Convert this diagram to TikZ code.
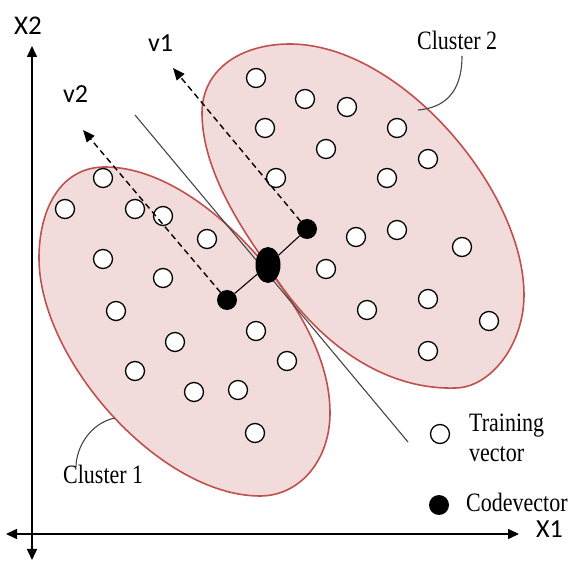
\documentclass[tikz,border=0pt]{standalone}
\usepackage{fontspec}
\setmainfont{Liberation Serif}
\newfontfamily\calib{Carlito}
\newfontfamily\serifc[FakeStretch=0.83]{Liberation Serif}
\usetikzlibrary{arrows.meta,shapes.geometric}
\definecolor{clfill}{RGB}{242,220,219}
\definecolor{cledge}{RGB}{192,80,77}
\definecolor{sepgray}{RGB}{70,70,70}
\begin{document}
\begin{tikzpicture}[x=1pt,y=-1pt,
  tv/.style={circle,draw=black,fill=white,line width=1.3pt,minimum size=19pt,inner sep=0pt},
  cv/.style={circle,fill=black,minimum size=20pt,inner sep=0pt},
  clus/.style={fill=clfill,draw=cledge,line width=1.6pt,line join=round},
  axisline/.style={line width=1.6pt,{Triangle[length=11pt,width=10pt]}-{Triangle[length=11pt,width=10pt]}},
  dasharrow/.style={line width=1.4pt,dash pattern=on 6pt off 4pt,-{Triangle[length=12pt,width=10pt]}},
  sanslbl/.style={font=\calib\fontsize{26}{30}\selectfont,inner sep=0pt,anchor=base west},
  seriflbl/.style={font=\serifc\fontsize{26.5}{30}\selectfont,inner sep=0pt,anchor=base west},
  callout/.style={line width=1.1pt,draw=sepgray}]
\useasboundingbox (0,0) rectangle (571,561);
% axes
\coordinate (ytop) at (32,46);
\coordinate (ybot) at (32,560);
\coordinate (xleft) at (6,534);
\coordinate (xright) at (519,534);
\draw[axisline] (ybot) -- (ytop);
\draw[axisline] (xleft) -- (xright);
\node[sanslbl,font=\calib\fontsize{27}{30}\selectfont] (X2) at (14,35) {X2};
\node[sanslbl] (X1) at (536,538) {X1};
% clusters
\path[clus] (266,266) .. controls (220,210) and (160,167) .. (105,167)
  .. controls (60,167) and (39,210) .. (39,258)
  .. controls (39,360) and (160,496) .. (260,496)
  .. controls (300,496) and (330,460) .. (330,413)
  .. controls (330,360) and (300,310) .. (266,266) -- cycle;
\path[clus] (268,266) .. controls (235,220) and (202,165) .. (202,113)
  .. controls (202,70) and (240,44) .. (290,44)
  .. controls (400,44) and (524,190) .. (524,295)
  .. controls (524,345) and (490,388) .. (455,388)
  .. controls (390,390) and (320,350) .. (268,266) -- cycle;
% separator
\coordinate (s1) at (135,115);
\coordinate (s2) at (408,442);
\draw[line width=1.1pt,sepgray] (s1) -- (s2);
% training vectors cluster 2
\foreach \p [count=\i] in {(256,78),(305,99),(347,107),(265,128),(397,128),(326,149),(428,159),(276,178),(387,178),(356,237),(397,230),(462,247),(326,269),(428,299),(367,310),(489,321),(428,351)}
  \node[tv] (b\i) at \p {};
% training vectors cluster 1
\foreach \p [count=\i] in {(103,178),(65,209),(135,209),(163,216),(207,239),(103,259),(163,278),(116,311),(256,331),(175,342),(287,361),(135,371),(194,392),(238,390),(255,433)}
  \node[tv] (a\i) at \p {};
% codevectors
\node[cv] (c1) at (307,229) {};
\node[cv] (c2) at (227,300) {};
\node[ellipse,fill=black,minimum width=25pt,minimum height=36pt,inner sep=0pt] (c0) at (268,265) {};
\draw[line width=1.1pt] (c2) -- (c0) -- (c1);
% direction vectors
\coordinate (v1tip) at (173,68);
\coordinate (v2tip) at (83,130);
\draw[dasharrow] (c1.center) -- (v1tip);
\draw[dasharrow] (c2.center) -- (v2tip);
\node[sanslbl] (v1) at (148,52) {v1};
\node[sanslbl] (v2) at (63,103) {v2};
% cluster labels
\node[seriflbl] (cl2) at (417,50) {Cluster 2};
\node[seriflbl] (cl1) at (63,484) {Cluster 1};
\coordinate (k2a) at (462,56);
\coordinate (k2b) at (418,110);
\draw[callout] (k2a) .. controls (462,95) and (442,108) .. (k2b);
\coordinate (k1a) at (115,418);
\coordinate (k1b) at (76,467);
\draw[callout] (k1a) .. controls (90,423) and (76,448) .. (k1b);
% legend
\node[tv] (lt) at (440,434) {};
\node[cv] (lc) at (439,505) {};
\node[seriflbl] (lt1) at (469,432) {Training};
\node[seriflbl] (lt2) at (469,462) {vector};
\node[seriflbl] (lc1) at (466,512) {Codevector};
\end{tikzpicture}
\end{document}
